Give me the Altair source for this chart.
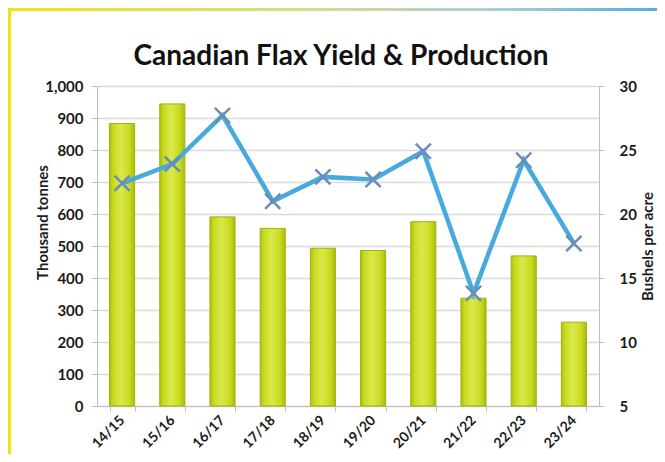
import altair as alt
import pandas as pd

# ---- data ----
seasons = ["14/15", "15/16", "16/17", "17/18", "18/19", "19/20", "20/21", "21/22", "22/23", "23/24"]
production = [883, 944, 591, 555, 493, 486, 576, 337, 469, 262]      # thousand tonnes
yield_bu = [22.4, 23.9, 27.7, 21.0, 22.9, 22.7, 24.9, 13.8, 24.2, 17.7]  # bushels per acre
left_ticks = [0, 100, 200, 300, 400, 500, 600, 700, 800, 900, 1000]
right_ticks = [5, 10, 15, 20, 25, 30]
title_text = "Canadian Flax Yield & Production"

df = pd.DataFrame({"season": seasons, "production": production, "yield": yield_bu})

FONT = "Lato"
TXT = "#1c1c1c"
AXC = "#bdbdbd"
W, H = 502, 320
PAD_L, PAD_T, PAD_R, PAD_B = 89, 78, 58, 48

x_enc = alt.X(
    "season:N", sort=seasons, title=None,
    scale=alt.Scale(paddingInner=0.5, paddingOuter=0.25),
    axis=alt.Axis(labelAngle=-45, labelAlign="right", labelBaseline="middle",
                  labelPadding=7, tickBand="extent", tickSize=5, tickColor=AXC,
                  domainColor=AXC, labelFont=FONT, labelFontSize=14,
                  labelFontWeight="bold", labelColor=TXT, grid=False),
)

bar_fill = alt.LinearGradient(
    gradient="linear", x1=0, x2=1, y1=0, y2=0,
    stops=[alt.GradientStop(color="#aebf0a", offset=0),
           alt.GradientStop(color="#c9db1e", offset=0.15),
           alt.GradientStop(color="#dbe84c", offset=0.45),
           alt.GradientStop(color="#c8da1c", offset=0.8),
           alt.GradientStop(color="#a9ba0a", offset=1)],
)

bars = alt.Chart(df).mark_bar(color=bar_fill, stroke="#a0b012", strokeWidth=1).encode(
    x=x_enc,
    y=alt.Y("production:Q", scale=alt.Scale(domain=[0, 1000], nice=False),
            axis=alt.Axis(orient="left", values=left_ticks, format=",d",
                          title="Thousand tonnes", titleFont=FONT, titleFontSize=15,
                          titleFontWeight="bold", titleColor=TXT, titleAngle=270,
                          titleBaseline="alphabetic", titleX=-50, titleY=136,
                          labelFont=FONT, labelFontSize=15, labelFontWeight="bold",
                          labelColor=TXT, labelPadding=9, tickSize=5, tickColor=AXC,
                          domainColor=AXC, grid=True, gridColor="#dadada", gridWidth=1.5)),
)

y_line = alt.Y("yield:Q", scale=alt.Scale(domain=[5, 30], nice=False),
               axis=alt.Axis(orient="right", values=right_ticks, format="d",
                             title="Bushels per acre", titleFont=FONT, titleFontSize=15,
                             titleFontWeight="bold", titleColor=TXT, titleAngle=270,
                             titleBaseline="alphabetic", titleX=53, titleY=160,
                             labelFont=FONT, labelFontSize=15, labelFontWeight="bold",
                             labelColor=TXT, labelPadding=15, tickSize=5, tickColor=AXC,
                             domainColor=AXC, grid=False))

line = alt.Chart(df).mark_line(color="#48a9de", strokeWidth=4.5).encode(x=x_enc, y=y_line)
points = alt.Chart(df).mark_point(
    shape="M-1,-1L1,1M-1,1L1,-1", size=230, filled=False,
    stroke="#6a8db6", strokeWidth=2.5, opacity=1,
).encode(x=x_enc, y=y_line)

# decorative frame (yellow left edge, yellow-to-blue top edge)
frame_grad = alt.LinearGradient(
    gradient="linear", x1=0, x2=1, y1=0, y2=0,
    stops=[alt.GradientStop(color="#f3e30a", offset=0),
           alt.GradientStop(color="#d6dc8a", offset=0.45),
           alt.GradientStop(color="#aacfd6", offset=0.75),
           alt.GradientStop(color="#4fb0e2", offset=1)],
)
one = alt.Data(values=[{"t": title_text}])
top_edge = alt.Chart(one).mark_rect(color=frame_grad).encode(
    x=alt.value(-PAD_L), x2=alt.value(W + PAD_R), y=alt.value(-PAD_T), y2=alt.value(-PAD_T + 3))
left_edge = alt.Chart(one).mark_rect(color="#f3e30a").encode(
    x=alt.value(-PAD_L), x2=alt.value(-PAD_L + 3), y=alt.value(-PAD_T), y2=alt.value(H + PAD_B))

title = alt.Chart(one).mark_text(
    font=FONT, fontSize=28, fontWeight="bold", color="#111111",
    align="center", baseline="alphabetic",
).encode(text="t:N", x=alt.value(W / 2 - 7), y=alt.value(-21))

chart = alt.layer(
    top_edge, left_edge, title, bars, alt.layer(line, points)
).resolve_scale(y="independent").properties(
    width=W, height=H,
    autosize=alt.AutoSizeParams(type="none"),
    padding={"left": PAD_L, "top": PAD_T, "right": PAD_R, "bottom": PAD_B},
    background="white",
).configure_view(stroke=None)

chart.save("out.html", embed_options={"renderer": "svg", "actions": False})
